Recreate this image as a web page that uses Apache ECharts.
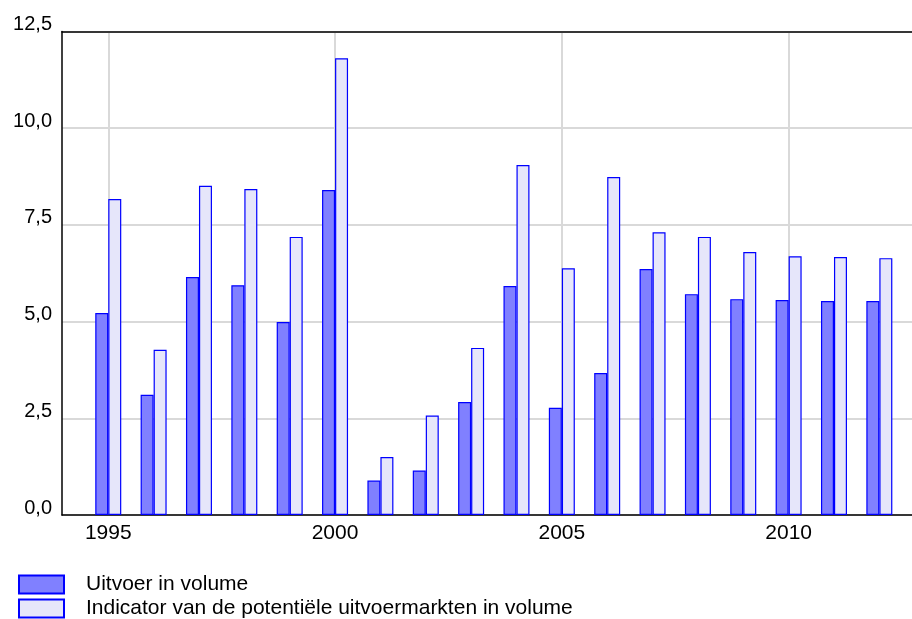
<!DOCTYPE html>
<html>
<head>
<meta charset="utf-8">
<script src="https://cdn.jsdelivr.net/npm/echarts@6/dist/echarts.min.js"></script>
<style>html,body{margin:0;padding:0;background:#fff}#c{width:912px;height:619px}</style>
</head>
<body>
<div id="c"></div>
<script>
var years = [1995,1996,1997,1998,1999,2000,2001,2002,2003,2004,2005,2006,2007,2008,2009,2010,2011,2012];
var uitvoer = [5.22,3.11,6.15,5.94,4.99,8.40,0.89,1.15,2.92,5.92,2.77,3.67,6.36,5.71,5.58,5.56,5.53,5.53];
var markten = [8.17,4.27,8.51,8.43,7.19,11.81,1.50,2.57,4.32,9.05,6.38,8.74,7.31,7.19,6.80,6.69,6.67,6.64];
var xTicks = [1995,2000,2005,2010];
var seriesNames = ['Uitvoer in volume','Indicator van de potentiële uitvoermarkten in volume'];

var font = 'Liberation Sans, Arial, Helvetica, sans-serif';
function pairs(vals){ return years.map(function(y,i){ return [y, vals[i]]; }); }
var xMin = 1993.98, xMax = 2012.72;

function legendFor(name, top){
  return {
    left:18, top:top, padding:0, itemWidth:45, itemHeight:18, itemGap:0,
    icon:'rect',
    textStyle:{fontFamily:font, fontSize:21, color:'#000', lineHeight:18, padding:[0,0,0,17]},
    data:[name]
  };
}

var chart = echarts.init(document.getElementById('c'), null, {renderer:'canvas'});
chart.setOption({
  animation:false,
  grid:{left:62, top:31.5, right:0, bottom:104, containLabel:false},
  legend:[legendFor(seriesNames[0], 574), legendFor(seriesNames[1], 598)],
  xAxis:[{
    type:'value', min:xMin, max:xMax,
    axisLine:{show:true, lineStyle:{color:'#000', width:1.5}},
    axisTick:{show:false, customValues:xTicks},
    axisLabel:{customValues:xTicks, formatter:function(v){return String(v);}, fontFamily:font, fontSize:21, color:'#000', margin:8},
    splitLine:{show:true, lineStyle:{color:'#d9d9d9', width:2}}
  },{
    type:'value', min:xMin, max:xMax, position:'top',
    axisLine:{show:true, onZero:false, lineStyle:{color:'#000', width:1.5}},
    axisTick:{show:false}, axisLabel:{show:false}, splitLine:{show:false}
  }],
  yAxis:{
    type:'value', min:0, max:12.5, interval:2.5,
    axisLine:{show:true, lineStyle:{color:'#000', width:1.5}},
    axisTick:{show:false},
    axisLabel:{formatter:function(v){return v.toFixed(1).replace('.',',');}, fontFamily:font, fontSize:20, color:'#000', margin:10, verticalAlign:'bottom', lineHeight:20, padding:[0,0,-3,0]},
    splitLine:{show:true, lineStyle:{color:'#d9d9d9', width:2}}
  },
  series:[
    {name:seriesNames[0], type:'bar', xAxisIndex:0, data:pairs(uitvoer), barWidth:13, barGap:'0%',
     itemStyle:{color:'#8080ff', borderColor:'#0000ff', borderWidth:1.2}},
    {name:seriesNames[1], type:'bar', xAxisIndex:0, data:pairs(markten), barWidth:13, barGap:'0%',
     itemStyle:{color:'#e6e6fa', borderColor:'#0000ff', borderWidth:1.2}}
  ]
});
</script>
</body>
</html>
